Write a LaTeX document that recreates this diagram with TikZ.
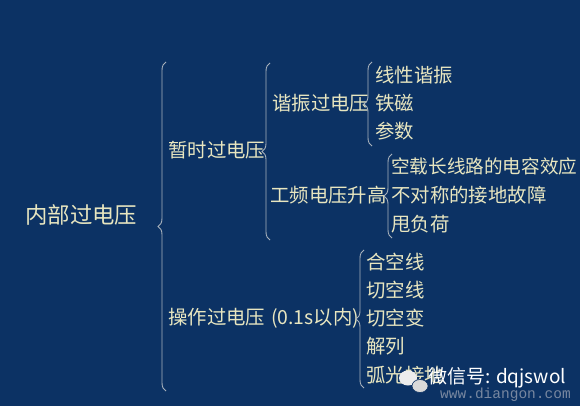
\documentclass[tikz,border=0pt]{standalone}
\usepackage{fontspec}
\newfontfamily\cjk{Noto Sans CJK SC}
\newfontfamily\wmmono{Liberation Mono}
\usepackage{tikz}
\usetikzlibrary{decorations, decorations.pathreplacing, positioning, calc}

\definecolor{bgcol}{RGB}{12,50,100}
\definecolor{txtcol}{RGB}{232,230,192}
\definecolor{bracecol}{RGB}{168,178,188}
\definecolor{wmgray}{RGB}{120,135,160}

\begin{document}
\begin{tikzpicture}[x=1pt,y=-1pt,
  lbl/.style={anchor=west,inner sep=0pt,text=txtcol,font=\cjk\fontsize{19.4}{20}\selectfont},
  rootlbl/.style={lbl,font=\cjk\fontsize{22.4}{23}\selectfont},
  brc/.style={draw=bracecol,line width=.9pt,decorate,
    decoration={brace,mirror,amplitude=8pt}}]
%%
\fill[bgcol] (0,0) rectangle (580,406);
\useasboundingbox (0,0) rectangle (580,406);
%%
  % Node: root
  \node[rootlbl] (root) at (25,215) {内部过电压};
  % Node: level 1
  \node[lbl] (zanshi) at (168,150) {暂时过电压};
  \node[lbl] (caozuo) at (168,318) {操作过电压\hspace{6pt}(0.1s以内)};
  % Node: level 2
  \node[lbl] (xiezhen) at (272,103) {谐振过电压};
  \node[lbl] (gongpin) at (270,195) {工频电压升高};
  % Node: leaves of xiezhen
  \node[lbl] (xianxing) at (375,75) {线性谐振};
  \node[lbl] (tieci) at (375,103) {铁磁};
  \node[lbl] (canshu) at (375,131) {参数};
  % Node: leaves of gongpin
  \node[lbl,font=\cjk\fontsize{18.6}{20}\selectfont] (kongzai) at (391,166) {空载长线路的电容效应};
  \node[lbl] (buduicheng) at (391,195) {不对称的接地故障};
  \node[lbl] (shuai) at (391,224) {甩负荷};
  % Node: leaves of caozuo
  \node[lbl] (hekong) at (366,262) {合空线};
  \node[lbl] (qiekongxian) at (366,290) {切空线};
  \node[lbl] (qiekongbian) at (366,318) {切空变};
  \node[lbl] (jielie) at (366,346) {解列};
  \node[lbl] (huguang) at (366,375) {弧光接地};
%%
  % Brace: root
  \coordinate (b1t) at (166,62);
  \coordinate (b1b) at (166,391);
  \draw[brc] (b1t) -- (b1b);
  % Brace: zanshi
  \coordinate (b2t) at (270,63);
  \coordinate (b2b) at (270,240);
  \draw[brc] (b2t) -- (b2b);
  % Brace: xiezhen
  \coordinate (b3t) at (372,62);
  \coordinate (b3b) at (372,146);
  \draw[brc] (b3t) -- (b3b);
  % Brace: gongpin
  \coordinate (b4t) at (392,154);
  \coordinate (b4b) at (392,238);
  \draw[brc] (b4t) -- (b4b);
  % Brace: caozuo
  \coordinate (b5t) at (364,250);
  \coordinate (b5b) at (364,388);
  \draw[brc] (b5t) -- (b5b);
%%
  % Watermark
\begin{scope}
  \fill[white!85!gray] (408,378) ellipse (9pt and 7.5pt);
  \fill[white!70!gray,draw=bgcol,line width=.6pt] (420,386) ellipse (8pt and 6.5pt);
  \node[anchor=west,inner sep=0pt,text=white,font=\cjk\fontsize{19}{20}\selectfont]
    (wx) at (428,378) {微信号: dqjswol};
  \node[anchor=west,inner sep=0pt,text=wmgray,font=\wmmono\fontsize{14.5}{15}\selectfont]
    (site) at (440,395) {www.diangon.com};
\end{scope}
%
\end{tikzpicture}
\end{document}
